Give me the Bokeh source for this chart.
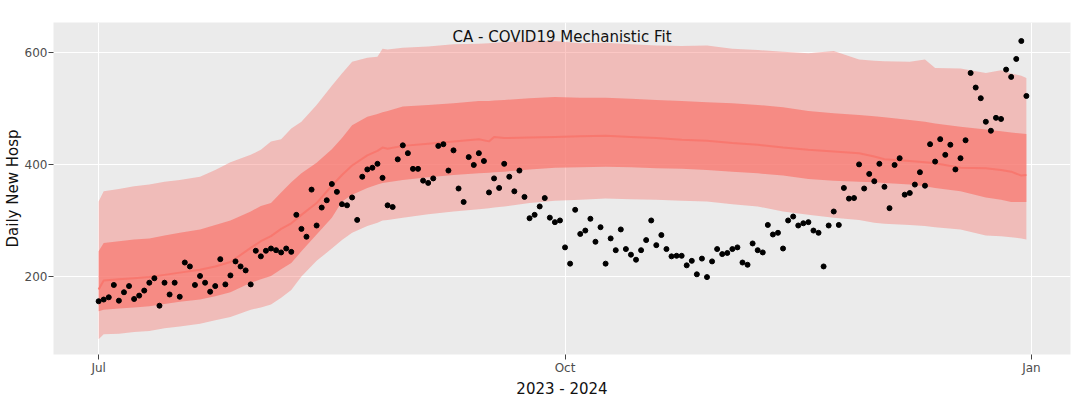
import pandas as pd
from bokeh.plotting import figure
from bokeh.models import Range1d, FixedTicker, DatetimeTickFormatter, Label
from bokeh.embed import file_html
from bokeh.resources import INLINE

# ---------------- data ----------------
title_text = "CA - COVID19 Mechanistic Fit"
x_title = "2023 - 2024"
y_title = "Daily New Hosp"
start_date = "2023-07-01"
tick_dates = ["2023-07-01", "2023-10-01", "2024-01-01"]
y_ticks = [200, 400, 600]

# observed daily new hospitalisations, one per day from start_date
daily_hosp = [
    156, 159, 163, 185, 157, 172, 183, 160, 166, 175,
    189, 197, 148, 189, 168, 189, 164, 225, 218, 185,
    201, 189, 173, 183, 231, 186, 202, 227, 218, 211,
    186, 246, 236, 246, 250, 247, 243, 250, 244, 310,
    285, 271, 355, 291, 323, 336, 365, 351, 329, 327,
    341, 301, 378, 391, 394, 401, 376, 327, 324, 409,
    434, 420, 392, 392, 371, 367, 375, 433, 436, 389,
    425, 357, 333, 413, 399, 420, 406, 350, 375, 358,
    401, 378, 352, 389, 342, 304, 310, 325, 340, 305,
    297, 300, 252, 223, 319, 276, 282, 303, 262, 288,
    223, 268, 247, 284, 249, 239, 230, 247, 265, 300,
    256, 274, 249, 236, 237, 237, 220, 228, 204, 232,
    199, 227, 249, 240, 242, 249, 252, 225, 221, 259,
    247, 243, 292, 275, 278, 250, 300, 307, 291, 295,
    297, 282, 278, 218, 291, 316, 292, 358, 339, 340,
    400, 357, 383, 370, 401, 360, 322, 399, 411, 346,
    349, 364, 386, 362, 436, 405, 445, 417, 435, 391,
    411, 443, 563, 537, 518, 476, 460, 483, 481, 569,
    556, 588, 620, 522,
]

# model fit bands (day offsets from start_date)
band_days = [0, 1, 4, 7, 10, 13, 16, 20, 23, 26, 30, 32, 34, 36, 38, 40, 43, 46, 48, 50,
             53, 55, 56, 57, 60, 65, 70, 75, 77, 78, 80, 85, 90, 95, 100, 105, 110, 115, 120, 125,
             130, 135, 140, 145, 150, 153, 155, 160, 163, 165, 170, 175, 178, 180, 182, 183]
outer_hi = [334, 352, 356, 361, 364, 369, 372, 378, 390, 404, 417, 426, 441, 445, 464, 476, 506, 540, 562, 583,
            590, 592, 606, 605, 608, 610, 614, 615, 616, 617, 618, 620, 620, 616, 617, 614, 612, 611, 612, 606,
            604, 601, 598, 602, 587, 585, 584, 583, 587, 572, 571, 563, 568, 562, 558, 554]
inner_hi = [245, 260, 263, 266, 268, 273, 278, 284, 292, 300, 316, 326, 331, 350, 368, 384, 403, 427, 447, 470,
            485, 490, 493, 495, 503, 506, 509, 513, 513, 514, 515, 518, 520, 519, 519, 517, 515, 513, 511, 509,
            506, 502, 495, 491, 488, 486, 484, 479, 476, 473, 467, 462, 459, 457, 455, 454]
median = [177, 193, 195, 197, 199, 203, 207, 212, 218, 226, 251, 263, 272, 285, 295, 310, 331, 362, 381, 398,
          416, 424, 430, 428, 433, 437, 441, 445, 441, 449, 447, 448, 449, 450, 451, 449, 447, 444, 442, 438,
          435, 430, 426, 423, 420, 414, 409, 406, 404, 402, 394, 393, 390, 387, 380, 381]
inner_lo = [138, 141, 143, 145, 147, 151, 155, 159, 165, 172, 189, 195, 201, 213, 224, 245, 275, 305, 334, 346,
            358, 364, 367, 368, 372, 377, 381, 384, 385, 386, 387, 391, 394, 395, 396, 395, 393, 392, 390, 387,
            384, 380, 374, 371, 369, 368, 367, 364, 361, 358, 352, 341, 337, 333, 333, 333]
outer_lo = [88, 97, 98, 101, 103, 108, 111, 116, 122, 128, 141, 145, 150, 162, 176, 200, 228, 250, 265, 278,
            290, 296, 300, 301, 305, 311, 316, 320, 322, 323, 325, 331, 335, 337, 339, 338, 337, 335, 334, 329,
            325, 316, 310, 305, 301, 296, 294, 292, 290, 288, 284, 273, 272, 270, 268, 266]

# ---------------- build ----------------
FONT = "DejaVu Sans"
start = pd.Timestamp(start_date)
dates = start + pd.to_timedelta(list(range(len(daily_hosp))), unit="D")
band_dates = start + pd.to_timedelta(band_days, unit="D")

x_start = start - pd.Timedelta(days=8.9)
x_end = start + pd.Timedelta(days=191.7)
y_start, y_end = 61, 653

p = figure(width=1078, height=400, x_axis_type="datetime", output_backend="svg",
           toolbar_location=None, title=None,
           x_range=Range1d(x_start, x_end), y_range=Range1d(y_start, y_end),
           min_border_left=52, min_border_right=8, min_border_top=22, min_border_bottom=45)

red = "#F8766D"
p.varea(x=band_dates, y1=outer_lo, y2=outer_hi, fill_color=red, fill_alpha=0.4)
p.varea(x=band_dates, y1=inner_lo, y2=inner_hi, fill_color=red, fill_alpha=0.7)
p.line(x=band_dates, y=median, line_color=red, line_width=2, line_alpha=0.9)
p.scatter(x=dates, y=daily_hosp, size=5, fill_color="black", line_color="black")

# title inside the panel, like the original
mid_ms = (x_start.timestamp() + x_end.timestamp()) / 2 * 1000
p.add_layout(Label(x=mid_ms, y=y_end - 26.5, text=title_text, text_align="center",
                   text_baseline="middle", text_font=FONT, text_font_size="15px",
                   text_color="#111111"))

# styling
p.background_fill_color = "#EBEBEB"
p.border_fill_color = "white"
p.outline_line_color = None
for g in (p.xgrid, p.ygrid):
    g.grid_line_color = "white"
    g.grid_line_width = 1

p.xaxis.ticker = FixedTicker(ticks=[pd.Timestamp(d).timestamp() * 1000 for d in tick_dates])
p.xaxis.formatter = DatetimeTickFormatter(days="%b", months="%b", years="%b", hours="%b",
                                          minutes="%b", seconds="%b", milliseconds="%b",
                                          microseconds="%b", hourmin="%b", minsec="%b")
p.yaxis.ticker = FixedTicker(ticks=y_ticks)

for ax in (p.xaxis[0], p.yaxis[0]):
    ax.axis_line_color = None
    ax.major_tick_line_color = "#444444"
    ax.major_tick_out = 5
    ax.major_tick_in = 0
    ax.minor_tick_line_color = None
    ax.major_label_text_color = "#4D4D4D"
    ax.major_label_text_font = FONT
    ax.major_label_text_font_size = "12px"
    ax.major_label_text_line_height = 1.0
    ax.axis_label_text_font = FONT
    ax.axis_label_text_font_size = "15px"
    ax.axis_label_text_font_style = "normal"
    ax.axis_label_text_color = "#111111"
    ax.axis_label_text_line_height = 1.0

p.xaxis.axis_label = x_title
p.yaxis.axis_label = y_title
p.xaxis.major_label_standoff = 1
p.xaxis.axis_label_standoff = 2
p.yaxis.major_label_standoff = 1
p.yaxis.axis_label_standoff = 0

open("out.html", "w").write(file_html(p, INLINE))
